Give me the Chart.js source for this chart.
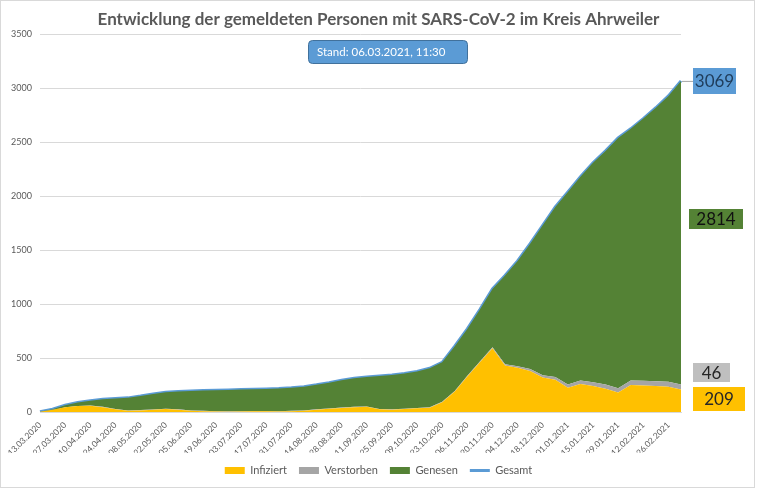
<!DOCTYPE html>
<html lang="de">
<head>
<meta charset="UTF-8">
<title>Entwicklung SARS-CoV-2 Kreis Ahrweiler</title>
<style>
    body { margin: 0; background: #fff; }
    #wrap { position: relative; width: 757px; height: 490px; }
</style>
<script src="https://cdn.jsdelivr.net/npm/chart.js"></script>
</head>
<body>
<div id="wrap"><canvas id="coronaChart"></canvas></div>
<script>
    // Wochenwerte
    const datum = [
        '13.03.2020', '20.03.2020', '27.03.2020', '03.04.2020', '10.04.2020', '17.04.2020', '24.04.2020',
        '01.05.2020', '08.05.2020', '15.05.2020', '22.05.2020', '29.05.2020', '05.06.2020', '12.06.2020',
        '19.06.2020', '26.06.2020', '03.07.2020', '10.07.2020', '17.07.2020', '24.07.2020', '31.07.2020',
        '07.08.2020', '14.08.2020', '21.08.2020', '28.08.2020', '04.09.2020', '11.09.2020', '18.09.2020',
        '25.09.2020', '02.10.2020', '09.10.2020', '16.10.2020', '23.10.2020', '30.10.2020', '06.11.2020',
        '13.11.2020', '20.11.2020', '27.11.2020', '04.12.2020', '11.12.2020', '18.12.2020', '25.12.2020',
        '01.01.2021', '08.01.2021', '15.01.2021', '22.01.2021', '29.01.2021', '05.02.2021', '12.02.2021',
        '19.02.2021', '26.02.2021', '06.03.2021'
    ];
    const infiziert = [
        3, 22, 45, 55, 58, 45, 25, 12, 15, 20, 28, 22, 12, 8, 5, 3, 5, 7, 6, 5, 8, 12, 22, 30, 38, 45,
        48, 25, 22, 28, 35, 40, 90, 190, 330, 460, 590, 430, 410, 380, 320, 300, 225, 260, 240, 215, 180,
        250, 245, 240, 235, 209
    ];
    const verstorben = [
        0, 0, 0, 1, 2, 3, 3, 3, 3, 3, 3, 3, 3, 3, 3, 3, 3, 3, 3, 3, 3, 3, 3, 3, 3, 3,
        3, 3, 3, 3, 3, 3, 4, 5, 7, 9, 11, 13, 15, 18, 21, 25, 29, 33, 36, 39, 41,
        43, 44, 45, 45, 46
    ];
    const genesen = [
        0, 3, 17, 32, 45, 70, 96, 116, 130, 145, 152, 165, 180, 188, 194, 199, 200, 200, 204, 209, 213, 220, 227, 239, 254, 264,
        274, 305, 318, 325, 337, 362, 366, 415, 433, 481, 539, 822, 975, 1162, 1389, 1575, 1786, 1887, 2034, 2166, 2319,
        2332, 2431, 2535, 2650, 2814
    ];
    const gesamt = [
        3, 25, 62, 88, 105, 118, 124, 131, 148, 168, 183, 190, 195, 199, 202, 205, 208, 210, 213, 217, 224, 235, 252, 272, 295, 312,
        325, 333, 343, 356, 375, 405, 460, 610, 770, 950, 1140, 1265, 1400, 1560, 1730, 1900, 2040, 2180, 2310, 2420, 2540,
        2625, 2720, 2820, 2930, 3069
    ];
    const stand = 'Stand: 06.03.2021, 11:30';

    const schrift = 'Lato, "Open Sans", sans-serif';
    const grau = '#595959';
    const letzter = gesamt.length - 1;

    // Rahmen, Stand-Kasten und Endwerte
    const beschriftung = {
        id: 'beschriftung',
        beforeDraw(chart) {
            const ctx = chart.ctx;
            ctx.save();
            ctx.fillStyle = '#fff';
            ctx.fillRect(0, 0, chart.width, chart.height);
            ctx.strokeStyle = '#d9d9d9';
            ctx.lineWidth = 1;
            ctx.strokeRect(0.5, 0.5, chart.width - 3, chart.height - 3);
            ctx.restore();
        },
        afterDraw(chart) {
            const ctx = chart.ctx;
            ctx.save();

            // Stand
            ctx.beginPath();
            ctx.roundRect(308.5, 40.5, 159, 23, 4);
            ctx.fillStyle = '#5b9bd5';
            ctx.fill();
            ctx.strokeStyle = '#41719c';
            ctx.lineWidth = 1;
            ctx.stroke();
            ctx.fillStyle = '#fff';
            ctx.font = '11.5px ' + schrift;
            ctx.textBaseline = 'middle';
            ctx.textAlign = 'left';
            ctx.fillText(stand, 317, 52);

            // Verbindungslinie zum Gesamtwert
            const yEnde = chart.scales.y.getPixelForValue(gesamt[letzter]);
            ctx.strokeStyle = '#a6a6a6';
            ctx.beginPath();
            ctx.moveTo(chart.chartArea.right + 1, yEnde + 0.5);
            ctx.lineTo(693, yEnde + 0.5);
            ctx.stroke();

            const kaesten = [
                [String(gesamt[letzter]), 693, 68, 43, 26, '#5b9bd5', '#1f3c5a'],
                [String(genesen[letzter]), 689, 209, 54, 20, '#548235', '#111'],
                [String(verstorben[letzter]), 693, 363, 37, 19, '#bfbfbf', '#262626'],
                [String(infiziert[letzter]), 693, 387, 52, 24, '#ffc000', '#262626']
            ];
            ctx.textAlign = 'center';
            kaesten.forEach(([text, x, y, w, h, fill, farbe]) => {
                ctx.fillStyle = fill;
                ctx.fillRect(x, y, w, h);
                ctx.fillStyle = farbe;
                ctx.font = '17px ' + schrift;
                ctx.fillText(text, x + w / 2, y + h / 2 + 1);
            });
            ctx.restore();
        }
    };

    const ctx = document.getElementById('coronaChart').getContext('2d');
    const coronaChart = new Chart(ctx, {
        type: 'line',
        data: {
            labels: datum,
            datasets: [
                {
                    label: 'Infiziert',
                    data: infiziert,
                    backgroundColor: '#ffc000',
                    borderWidth: 0,
                    fill: 'origin',
                    pointStyle: 'rect',
                    stack: 'flaeche'
                },
                {
                    label: 'Verstorben',
                    data: verstorben,
                    backgroundColor: '#a5a5a5',
                    borderWidth: 0,
                    fill: '-1',
                    pointStyle: 'rect',
                    stack: 'flaeche'
                },
                {
                    label: 'Genesen',
                    data: genesen,
                    backgroundColor: '#548235',
                    borderWidth: 0,
                    fill: '-1',
                    pointStyle: 'rect',
                    stack: 'flaeche'
                },
                {
                    label: 'Gesamt',
                    data: gesamt,
                    borderColor: '#5b9bd5',
                    backgroundColor: '#5b9bd5',
                    borderWidth: 3,
                    fill: false,
                    pointStyle: 'line',
                    stack: 'linie'
                }
            ]
        },
        options: {
            responsive: true,
            maintainAspectRatio: false,
            animation: false,
            elements: {
                point: { radius: 0, hoverRadius: 0 },
                line: { tension: 0 }
            },
            layout: { padding: { top: 0, bottom: 4, left: 0, right: 0 } },
            scales: {
                x: {
                    grid: { display: false },
                    border: { color: '#d9d9d9' },
                    ticks: {
                        autoSkip: false,
                        maxRotation: 45,
                        minRotation: 45,
                        color: grau,
                        font: { family: schrift, size: 8.5 },
                        padding: 0,
                        callback: function (value, index) {
                            return index % 2 === 0 ? this.getLabelForValue(value) : '';
                        }
                    },
                    afterFit: scale => { scale.height = 41; }
                },
                y: {
                    stacked: true,
                    min: 0,
                    max: 3500,
                    grid: { color: '#d9d9d9', drawTicks: false },
                    border: { display: false },
                    ticks: {
                        stepSize: 500,
                        color: grau,
                        padding: 8,
                        font: { family: schrift, size: 9 },
                        callback: value => String(value)
                    },
                    afterFit: scale => { scale.width = 40; }
                },
                rechts: {
                    position: 'right',
                    grid: { display: false },
                    border: { display: false },
                    ticks: { display: false },
                    afterFit: scale => { scale.width = 76; }
                }
            },
            plugins: {
                title: {
                    display: true,
                    text: 'Entwicklung der gemeldeten Personen mit SARS-CoV-2 im Kreis Ahrweiler',
                    color: grau,
                    font: { family: schrift, size: 17, weight: 'bold' },
                    padding: { top: 9, bottom: 5 }
                },
                legend: {
                    position: 'bottom',
                    labels: {
                        usePointStyle: true,
                        pointStyleWidth: 20,
                        boxHeight: 7,
                        color: grau,
                        padding: 12,
                        font: { family: schrift, size: 11 }
                    }
                },
                tooltip: { enabled: false }
            }
        },
        plugins: [beschriftung]
    });
</script>
</body>
</html>
